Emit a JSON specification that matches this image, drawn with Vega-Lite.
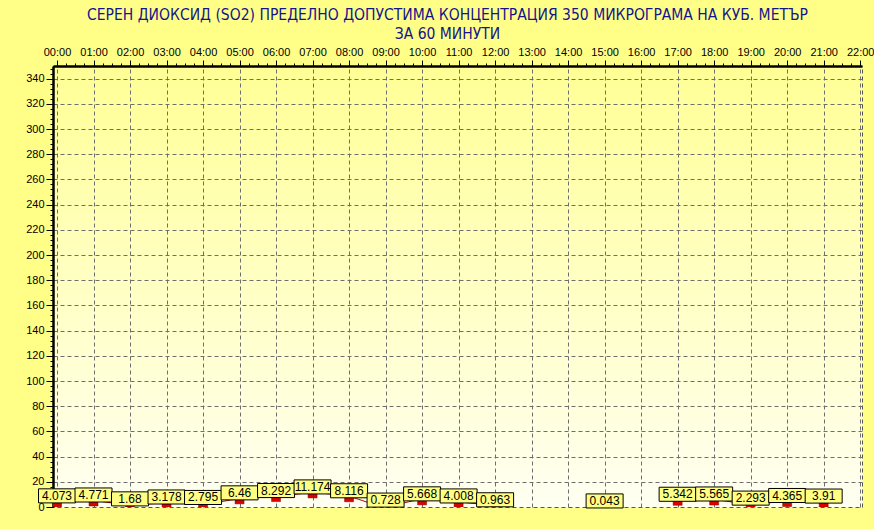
{
  "$schema": "https://vega.github.io/schema/vega-lite/v6.json",
  "width": 809,
  "height": 441,
  "autosize": {"type": "none"},
  "padding": {"left": 53, "top": 66, "right": 12, "bottom": 22},
  "background": "#ffff88",
  "title": {
    "text": ["СЕРЕН ДИОКСИД  (SO2)  ПРЕДЕЛНО ДОПУСТИМА КОНЦЕНТРАЦИЯ 350 МИКРОГРАМА  НА КУБ. МЕТЪР", "ЗА 60 МИНУТИ"],
    "font": "Liberation Sans Narrow, DejaVu Sans Condensed, Liberation Sans, sans-serif",
    "fontSize": 15.5,
    "fontWeight": "normal",
    "color": "#14148c",
    "anchor": "middle",
    "frame": "group",
    "dx": -10,
    "offset": 4,
    "lineHeight": 18.5
  },
  "view": {
    "fill": {"expr": "{gradient: 'linear', x1: 0, y1: 0, x2: 0, y2: 1, stops: [{offset: 0, color: '#ffff96'}, {offset: 1, color: '#fffff2'}]}"},
    "stroke": "#555555",
    "strokeDash": [4, 3],
    "strokeWidth": 1
  },
  "data": {
    "values": [
      {"hour": 0, "value": 4.073, "seg": "a"},
      {"hour": 1, "value": 4.771, "seg": "a"},
      {"hour": 2, "value": 1.68, "seg": "a"},
      {"hour": 3, "value": 3.178, "seg": "a"},
      {"hour": 4, "value": 2.795, "seg": "a"},
      {"hour": 5, "value": 6.46, "seg": "a"},
      {"hour": 6, "value": 8.292, "seg": "a"},
      {"hour": 7, "value": 11.174, "seg": "a"},
      {"hour": 8, "value": 8.116, "seg": "a"},
      {"hour": 9, "value": 0.728, "seg": "a"},
      {"hour": 10, "value": 5.668, "seg": "a"},
      {"hour": 11, "value": 4.008, "seg": "a"},
      {"hour": 12, "value": 0.963, "seg": "a"},
      {"hour": 15, "value": 0.043, "seg": "b"},
      {"hour": 17, "value": 5.342, "seg": "c"},
      {"hour": 18, "value": 5.565, "seg": "c"},
      {"hour": 19, "value": 2.293, "seg": "c"},
      {"hour": 20, "value": 4.365, "seg": "c"},
      {"hour": 21, "value": 3.91, "seg": "c"}
    ]
  },
  "encoding": {
    "x": {
      "field": "hour",
      "type": "quantitative",
      "scale": {"domain": [-0.11, 22.05], "nice": false, "zero": false},
      "axis": {
        "orient": "top",
        "title": null,
        "values": [0,0.25,0.5,0.75,1,1.25,1.5,1.75,2,2.25,2.5,2.75,3,3.25,3.5,3.75,4,4.25,4.5,4.75,5,5.25,5.5,5.75,6,6.25,6.5,6.75,7,7.25,7.5,7.75,8,8.25,8.5,8.75,9,9.25,9.5,9.75,10,10.25,10.5,10.75,11,11.25,11.5,11.75,12,12.25,12.5,12.75,13,13.25,13.5,13.75,14,14.25,14.5,14.75,15,15.25,15.5,15.75,16,16.25,16.5,16.75,17,17.25,17.5,17.75,18,18.25,18.5,18.75,19,19.25,19.5,19.75,20,20.25,20.5,20.75,21,21.25,21.5,21.75,22],
        "labelExpr": "datum.value % 1 === 0 ? ((datum.value < 10 ? '0' : '') + datum.value + ':00') : ''",
        "labelOverlap": false,
        "labelBound": false,
        "labelFlush": false,
        "labelFont": "Liberation Sans",
        "labelFontSize": 11,
        "labelColor": "#000000",
        "labelPadding": 3,
        "tickColor": "#000000",
        "tickSize": {"condition": {"test": "datum.value % 1 === 0", "value": 6}, "value": 3},
        "domainColor": "#000000",
        "domainWidth": 2.5,
        "grid": true,
        "gridColor": "#6e6e6e",
        "gridDash": [4, 3],
        "gridOpacity": {"condition": {"test": "datum.value % 1 === 0", "value": 1}, "value": 0}
      }
    },
    "y": {
      "field": "value",
      "type": "quantitative",
      "scale": {"domain": [0, 350], "nice": false},
      "axis": {
        "title": null,
        "values": [0,4,8,12,16,20,24,28,32,36,40,44,48,52,56,60,64,68,72,76,80,84,88,92,96,100,104,108,112,116,120,124,128,132,136,140,144,148,152,156,160,164,168,172,176,180,184,188,192,196,200,204,208,212,216,220,224,228,232,236,240,244,248,252,256,260,264,268,272,276,280,284,288,292,296,300,304,308,312,316,320,324,328,332,336,340,344,348],
        "labelExpr": "datum.value % 20 === 0 ? datum.value : ''",
        "labelOverlap": false,
        "labelBound": false,
        "labelFlush": false,
        "labelFont": "Liberation Sans",
        "labelFontSize": 11,
        "labelColor": "#000000",
        "labelPadding": 2,
        "tickColor": "#000000",
        "tickSize": {"condition": {"test": "datum.value % 20 === 0", "value": 7}, "value": 3},
        "domainColor": "#000000",
        "domainWidth": 2.5,
        "grid": true,
        "gridColor": "#6e6e6e",
        "gridDash": [4, 3],
        "gridOpacity": {"condition": {"test": "datum.value % 20 === 0 && datum.value > 0", "value": 1}, "value": 0}
      }
    }
  },
  "layer": [
    {
      "mark": {"type": "line", "color": "#b00000", "strokeWidth": 1, "interpolate": "monotone", "clip": true},
      "encoding": {"detail": {"field": "seg", "type": "nominal"}}
    },
    {
      "mark": {
        "type": "point",
        "shape": "M-1,-0.556H1V0.556H-1Z",
        "size": 81,
        "filled": true,
        "fill": "#dd0000",
        "fillOpacity": 1,
        "opacity": 1,
        "stroke": "#800000",
        "strokeWidth": 0.5,
        "yOffset": 2.5,
        "clip": true
      }
    },
    {
      "mark": {
        "type": "point",
        "shape": "M-1,-0.38H1V0.38H-1Z",
        "size": 1369,
        "filled": true,
        "fill": "#ffff84",
        "fillOpacity": 1,
        "opacity": 1,
        "stroke": "#000000",
        "strokeWidth": 1,
        "yOffset": -6
      }
    },
    {
      "mark": {
        "type": "text",
        "font": "Liberation Sans",
        "fontSize": 12,
        "color": "#000000",
        "baseline": "middle",
        "align": "center",
        "yOffset": -6
      },
      "encoding": {
        "text": {"field": "value", "type": "nominal"}
      }
    }
  ]
}
